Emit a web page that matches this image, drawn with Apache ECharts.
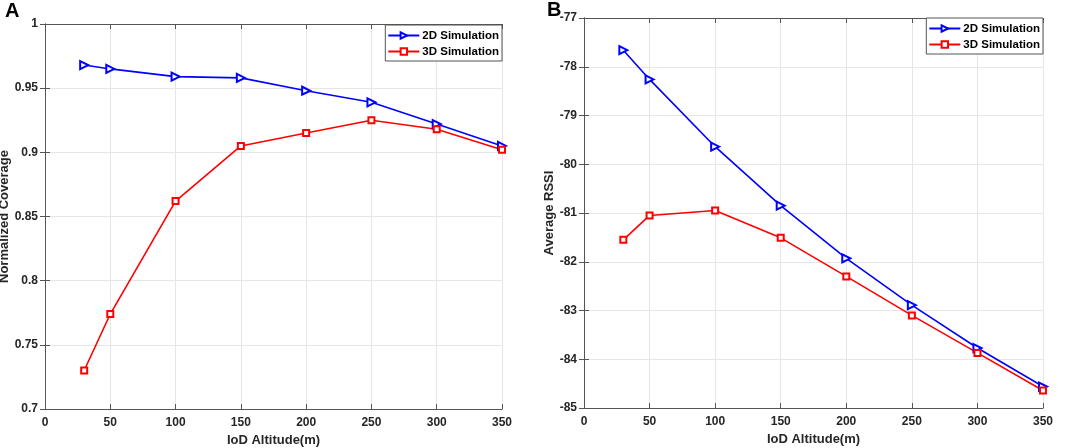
<!DOCTYPE html>
<html>
<head>
<meta charset="utf-8">
<script src="https://cdn.jsdelivr.net/npm/echarts@6/dist/echarts.min.js"></script>
<style>
  html, body { margin: 0; padding: 0; background: #fff; }
  #main { width: 1065px; height: 448px; }
</style>
</head>
<body>
<div id="main"></div>
<script>
// altitude values (m)
var altitudes = [30, 50, 100, 150, 200, 250, 300, 350];
// panel A: normalized coverage
var cov2D = [0.968, 0.965, 0.959, 0.958, 0.948, 0.939, 0.922, 0.905];
var cov3D = [0.730, 0.774, 0.862, 0.905, 0.915, 0.925, 0.918, 0.902];
// panel B: average RSSI
var rssi2D = [-77.66, -78.26, -79.64, -80.85, -81.93, -82.89, -83.77, -84.56];
var rssi3D = [-81.55, -81.05, -80.95, -81.51, -82.30, -83.10, -83.87, -84.64];

var FONT = 'Liberation Sans';
var AXIS_COLOR = '#262626';

function pairs(ys) {
    return altitudes.map(function (x, i) { return [x, ys[i]]; });
}

function mainX(idx) {
    return {
        type: 'value', gridIndex: idx, min: 0, max: 350, interval: 50,
        name: 'IoD Altitude(m)', nameLocation: 'middle', nameGap: 24,
        nameTextStyle: { fontFamily: FONT, fontWeight: 'bold', fontSize: 13, color: AXIS_COLOR },
        axisLine: { lineStyle: { color: '#555', width: 1 } },
        axisTick: { inside: true, length: 5, lineStyle: { color: '#555' } },
        axisLabel: { fontFamily: FONT, fontWeight: 'bold', fontSize: 12, color: AXIS_COLOR, margin: 8 },
        splitLine: { show: true, lineStyle: { color: '#e6e6e6' } }
    };
}
function boxX(idx) {
    return {
        type: 'value', gridIndex: idx, min: 0, max: 350, interval: 50, position: 'top',
        axisLine: { lineStyle: { color: '#555', width: 1 } },
        axisTick: { inside: true, length: 5, lineStyle: { color: '#555' } },
        axisLabel: { show: false }, splitLine: { show: false }
    };
}
function mainY(idx, min, max, interval, name, gap) {
    return {
        type: 'value', gridIndex: idx, min: min, max: max, interval: interval,
        name: name, nameLocation: 'middle', nameGap: gap,
        nameTextStyle: { fontFamily: FONT, fontWeight: 'bold', fontSize: 13, color: AXIS_COLOR },
        axisLine: { show: true, lineStyle: { color: '#555', width: 1 } },
        axisTick: { show: true, inside: true, length: 5, lineStyle: { color: '#555' } },
        axisLabel: { fontFamily: FONT, fontWeight: 'bold', fontSize: 12, color: AXIS_COLOR, margin: 7 },
        splitLine: { show: true, lineStyle: { color: '#e6e6e6' } }
    };
}
function boxY(idx, min, max, interval) {
    return {
        type: 'value', gridIndex: idx, min: min, max: max, interval: interval, position: 'right',
        axisLine: { show: true, lineStyle: { color: '#555', width: 1 } },
        axisTick: { show: true, inside: true, length: 5, lineStyle: { color: '#555' } },
        axisLabel: { show: false }, splitLine: { show: false }
    };
}
function legendFor(right, top) {
    return {
        right: right, top: top, orient: 'vertical',
        data: ['2D Simulation', '3D Simulation'],
        backgroundColor: '#fff', borderColor: '#555', borderWidth: 1, borderRadius: 0,
        padding: [4, 3, 3, 2], itemGap: 3, itemWidth: 31, itemHeight: 8,
        textStyle: { fontFamily: FONT, fontWeight: 'bold', fontSize: 11.5, color: '#000', padding: [0, 0, 0, -2], lineHeight: 13 },
        z: 10
    };
}
function series(name, ys, axisIdx, color, symbol, size, rotate) {
    return {
        name: name, type: 'line', data: pairs(ys),
        xAxisIndex: axisIdx, yAxisIndex: axisIdx,
        symbol: symbol, symbolSize: size, symbolRotate: rotate,
        lineStyle: { color: color, width: 1.6 },
        itemStyle: { color: color, borderColor: color, borderWidth: 1.4 },
        z: 5
    };
}

var myChart = echarts.init(document.getElementById('main'));
var option = {
    backgroundColor: '#fff',
    animation: false,
    title: [
        { text: 'A', left: 0, top: -4, textStyle: { fontFamily: FONT, fontWeight: 'bold', fontSize: 20, color: '#000' } },
        { text: 'B', left: 542, top: -5, textStyle: { fontFamily: FONT, fontWeight: 'bold', fontSize: 20, color: '#000' } }
    ],
    grid: [
        { left: 45, top: 24, width: 457, height: 385, outerBoundsMode: 'none', containLabel: false },
        { left: 584, top: 18, width: 459, height: 390, outerBoundsMode: 'none', containLabel: false }
    ],
    xAxis: [mainX(0), mainX(1), boxX(0), boxX(1)],
    yAxis: [
        mainY(0, 0.7, 1, 0.05, 'Normalized Coverage', 32),
        mainY(1, -85, -77, 1, 'Average RSSI', 24),
        boxY(0, 0.7, 1, 0.05),
        boxY(1, -85, -77, 1)
    ],
    legend: [legendFor(1065 - 502, 25), legendFor(1065 - 1043, 18)],
    series: [
        series('2D Simulation', cov2D, 0, '#0000ff', 'emptyTriangle', 8, -90),
        series('3D Simulation', cov3D, 0, '#ff0000', 'emptyRect', 6, 0),
        series('2D Simulation', rssi2D, 1, '#0000ff', 'emptyTriangle', 8, -90),
        series('3D Simulation', rssi3D, 1, '#ff0000', 'emptyRect', 6, 0)
    ]
};
myChart.setOption(option);
</script>
</body>
</html>
